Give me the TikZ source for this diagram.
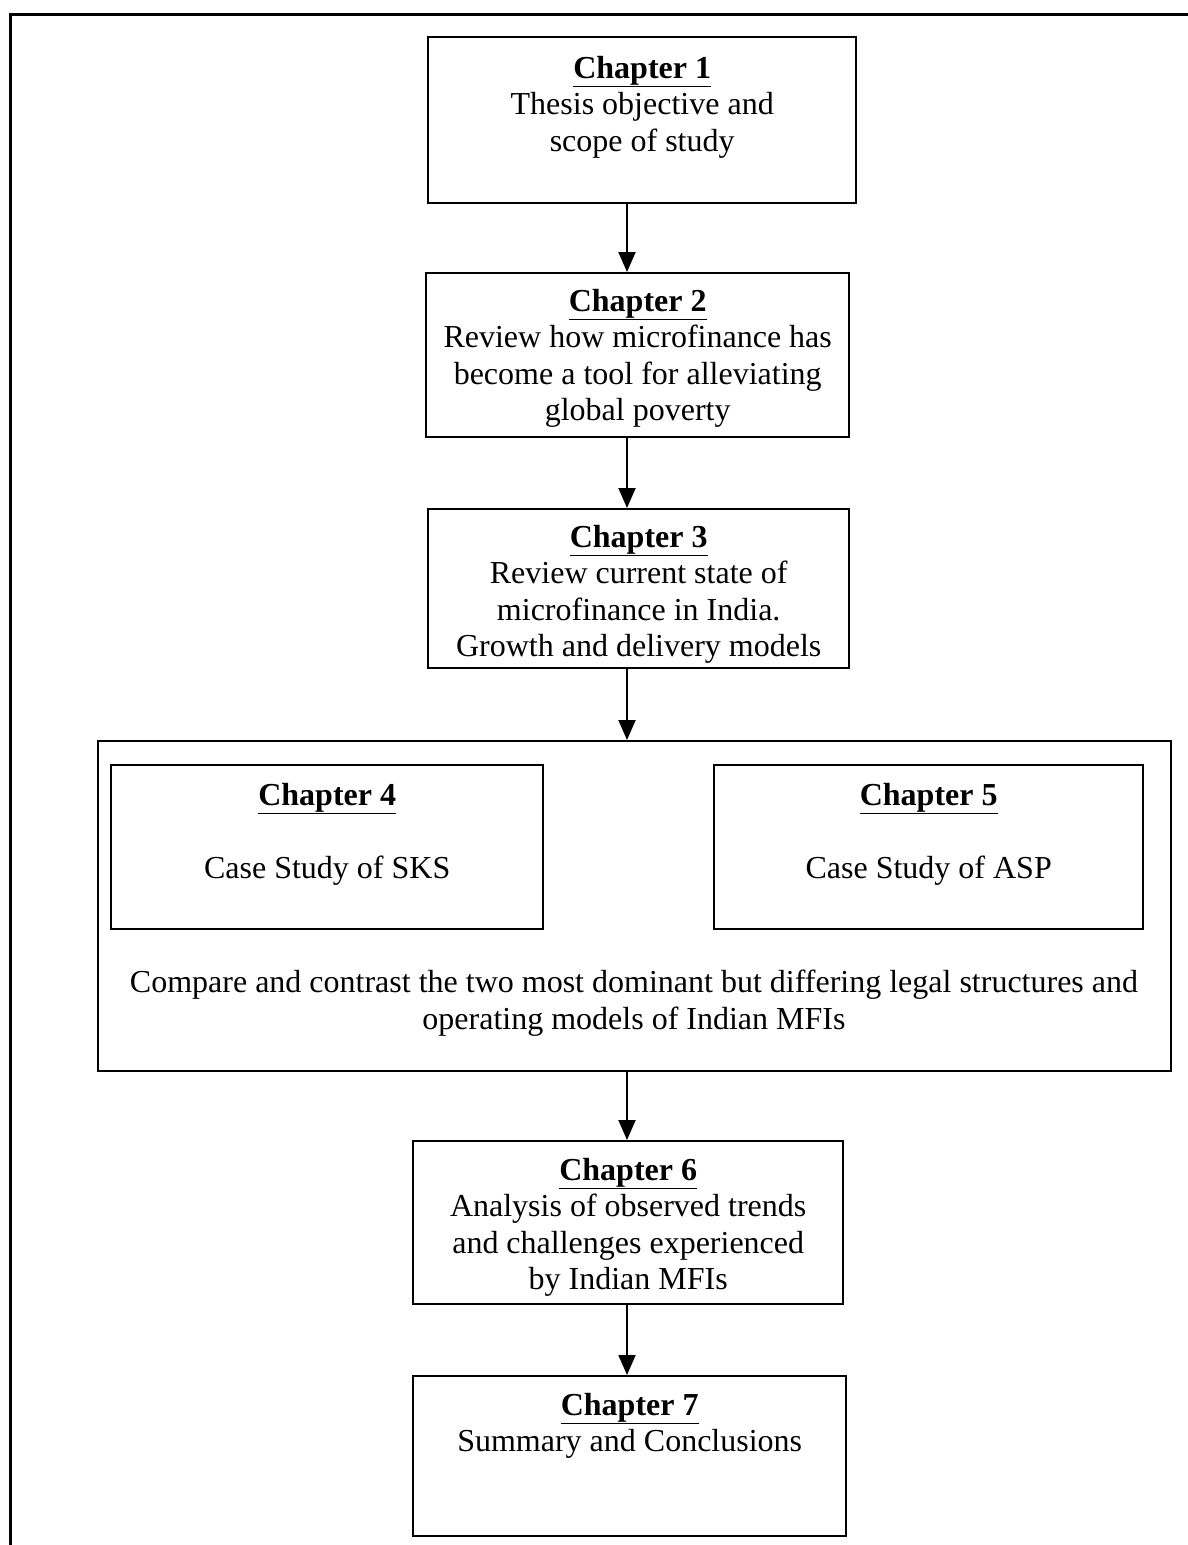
\documentclass[tikz,border=0pt]{standalone}
\usepackage{fontspec}
\setmainfont{Liberation Serif}
\usetikzlibrary{arrows.meta}
\tikzset{
  box/.style={draw, line width=2.4pt, rectangle, inner sep=0pt, anchor=north west},
  txt/.style={align=center, inner sep=0pt, anchor=north, font=\fontsize{32}{36.5}\selectfont},
  arr/.style={line width=2pt, -{Triangle[length=20pt,width=17pt]}},
}
\newcommand{\chap}[1]{\underline{\textbf{Chapter #1}}}
\begin{document}
\begin{tikzpicture}[x=1pt,y=-1pt]
\useasboundingbox (0,0) rectangle (1188,1545);
% outer frame
\draw[line width=3pt] (10,1545) -- (10,14) -- (1188,14);
% boxes
\node[box, minimum width=428pt, minimum height=166pt] (b1) at (427,36) {};
\node[box, minimum width=423pt, minimum height=164pt] (b2) at (425,272) {};
\node[box, minimum width=421pt, minimum height=159pt] (b3) at (427,508) {};
\node[box, minimum width=1073pt, minimum height=330pt] (big) at (97,740) {};
\node[box, minimum width=432pt, minimum height=164pt] (b4) at (110,764) {};
\node[box, minimum width=429pt, minimum height=164pt] (b5) at (713,764) {};
\node[box, minimum width=430pt, minimum height=163pt] (b6) at (412,1140) {};
\node[box, minimum width=433pt, minimum height=160pt] (b7) at (412,1375) {};
% texts
\node[txt] (t1) at ([yshift=-20pt]b1.north) {\chap{1}\\Thesis objective and\\scope of study};
\node[txt] (t2) at ([yshift=-17pt]b2.north) {\chap{2}\\Review how microfinance has\\become a tool for alleviating\\global poverty};
\node[txt] (t3) at ([yshift=-17pt]b3.north) {\chap{3}\\Review current state of\\microfinance in India.\\Growth and delivery models};
\node[txt] (t4a) at ([yshift=-19pt]b4.north) {\chap{4}};
\node[txt] (t4b) at ([yshift=-92pt]b4.north) {Case Study of SKS};
\node[txt] (t5a) at ([yshift=-19pt]b5.north) {\chap{5}};
\node[txt] (t5b) at ([yshift=-92pt]b5.north) {Case Study of ASP};
\node[txt] (tbig) at (634,970) {Compare and contrast the two most dominant but differing legal structures and\\operating models of Indian MFIs};
\node[txt] (t6) at ([yshift=-18pt]b6.north) {\chap{6}\\Analysis of observed trends\\and challenges experienced\\by Indian MFIs};
\node[txt] (t7) at ([yshift=-18pt]b7.north) {\chap{7}\\Summary and Conclusions};
% arrows
\coordinate (ax) at (627,0);
\draw[arr] (b1.south -| ax) -- (b2.north -| ax);
\draw[arr] (b2.south -| ax) -- (b3.north -| ax);
\draw[arr] (b3.south -| ax) -- (big.north -| ax);
\draw[arr] (big.south -| ax) -- (b6.north -| ax);
\draw[arr] (b6.south -| ax) -- (b7.north -| ax);
\end{tikzpicture}
\end{document}
